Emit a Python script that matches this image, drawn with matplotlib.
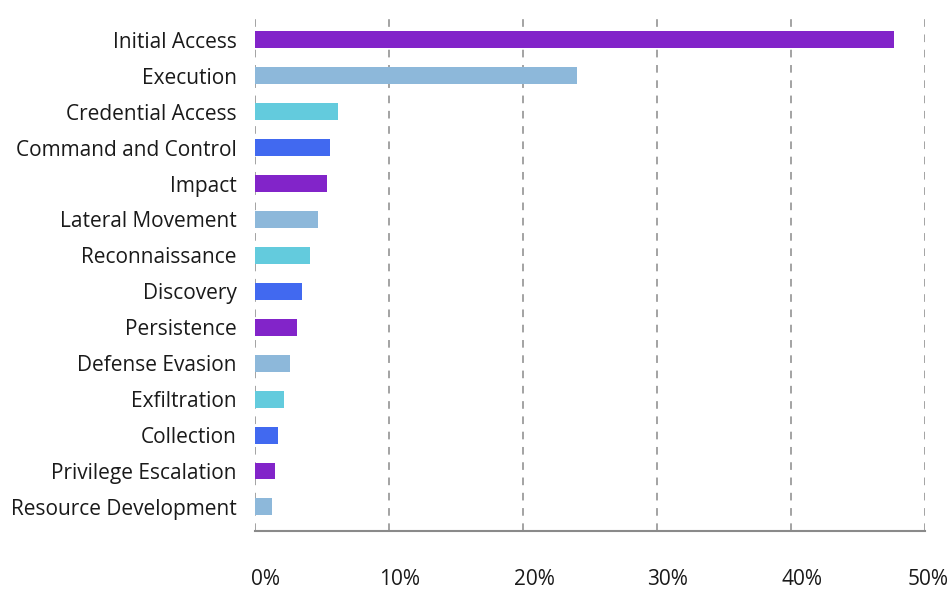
import matplotlib.pyplot as plt
import matplotlib.transforms as mtransforms
from matplotlib.ticker import FuncFormatter

plt.rcParams['font.family'] = ['Open Sans', 'DejaVu Sans']

# data
tactics = ["Initial Access", "Execution", "Credential Access", "Command and Control",
           "Impact", "Lateral Movement", "Reconnaissance", "Discovery", "Persistence",
           "Defense Evasion", "Exfiltration", "Collection", "Privilege Escalation",
           "Resource Development"]
share = [47.7, 24.0, 6.2, 5.6, 5.4, 4.7, 4.1, 3.5, 3.1, 2.6, 2.2, 1.7, 1.5, 1.3]
palette = ["#8224C9", "#8DB8DA", "#63CBDD", "#4169F0"]
x_ticks = [0, 10, 20, 30, 40, 50]

fig = plt.figure(figsize=(9.53, 5.89), dpi=100)
ax = fig.add_axes([255/953, 1 - 531/589, 670/953, 516/589])

ypos = list(range(len(tactics)))
colors = [palette[i % 4] for i in ypos]
ax.barh(ypos, share, height=0.47, color=colors, zorder=3)

ax.set_xlim(0, 50)
ax.set_ylim(len(tactics) - 0.33, -0.69)
ax.set_yticks(ypos)
ax.set_yticklabels(tactics, fontsize=15, color="#1a1a1a")
ax.set_xticks(x_ticks)
ax.xaxis.set_major_formatter(FuncFormatter(lambda v, p: f"{int(v)}%"))
ax.tick_params(axis="y", length=0, pad=13)
ax.tick_params(axis="x", length=0, pad=27.5, labelsize=15, labelcolor="#1a1a1a")

# x labels sit a bit right of their gridlines, last one pulled in to fit
xlabels = ax.get_xticklabels()
for i, lbl in enumerate(xlabels):
    dx = 3 if i == len(xlabels) - 1 else 11
    shift = mtransforms.ScaledTranslation(dx/100, 0, fig.dpi_scale_trans)
    lbl.set_transform(lbl.get_transform() + shift)

ax.grid(axis="x", color="#8a8a8a", linestyle=(0, (5, 5)), linewidth=1.1, zorder=0)
for s in ["top", "right", "left"]:
    ax.spines[s].set_visible(False)
ax.spines["bottom"].set_color("#8a8a8a")
ax.spines["bottom"].set_linewidth(1.5)

fig.savefig("out.png", dpi=100)
